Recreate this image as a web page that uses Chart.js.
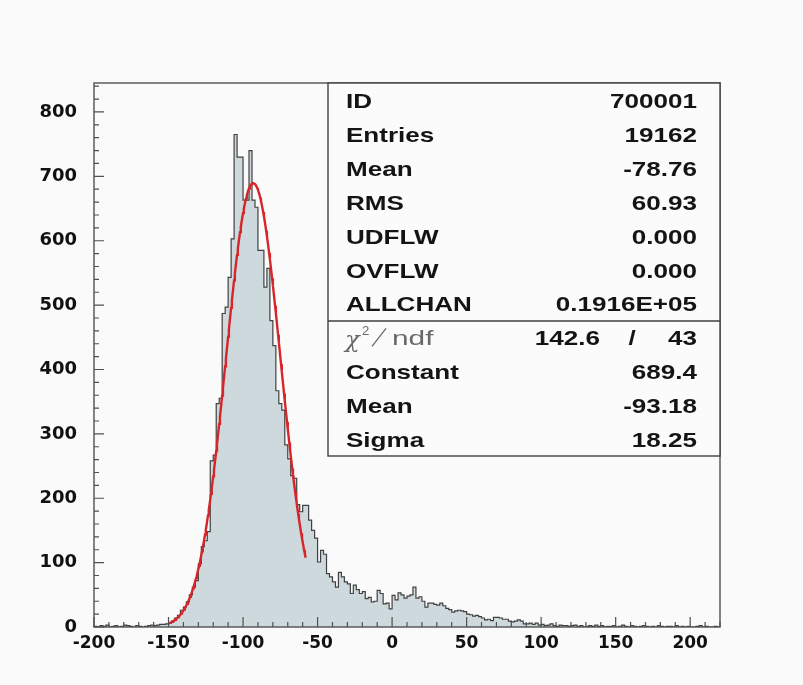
<!DOCTYPE html>
<html>
<head>
<meta charset="utf-8">
<title>700001</title>
<script src="https://cdn.jsdelivr.net/npm/chart.js@4.4.1/dist/chart.umd.min.js"></script>
<style>
  body { margin: 0; background: #fafafa; }
  canvas { display: block; }
</style>
</head>
<body>
<canvas id="histo" width="803" height="685"></canvas>
<script>
// histogram binning: 210 bins of width 2 between -200 and 220
var xMin = -200;
var xMax = 220;
var binWidth = 2;

var counts = [
    1, 0, 2, 1, 3, 0, 1, 2, 0, 1,
    3, 2, 1, 0, 2, 1, 0, 1, 2, 3,
    2, 3, 4, 4, 5, 7, 9, 14, 18, 26,
    31, 39, 50, 62, 72, 98, 125, 134, 148, 258,
    267, 347, 355, 487, 497, 543, 603, 765, 730, 730,
    663, 663, 740, 663, 652, 585, 585, 528, 557, 476,
    437, 367, 347, 337, 283, 261, 235, 231, 190, 179,
    189, 189, 166, 150, 138, 101, 119, 113, 83, 78,
    70, 62, 85, 78, 70, 67, 52, 65, 58, 52,
    55, 44, 46, 39, 40, 57, 52, 36, 37, 28,
    49, 42, 53, 50, 45, 48, 50, 62, 45, 47,
    40, 31, 37, 37, 35, 34, 37, 33, 29, 27,
    23, 25, 26, 25, 24, 20, 19, 17, 18, 16,
    14, 11, 12, 10, 15, 15, 14, 12, 12, 9,
    8, 9, 11, 9, 5, 5, 6, 4, 6, 3,
    4, 2, 3, 5, 2, 1, 3, 2, 2, 1,
    2, 3, 1, 2, 0, 1, 2, 1, 3, 1,
    2, 0, 1, 1, 2, 0, 1, 3, 1, 0,
    2, 1, 0, 1, 2, 1, 0, 1, 0, 2,
    1, 0, 1, 1, 0, 2, 0, 1, 0, 1,
    0, 0, 1, 2, 0, 1, 0, 0, 1, 0
];

var xTicks = [-200, -150, -100, -50, 0, 50, 100, 150, 200];
var yTicks = [0, 100, 200, 300, 400, 500, 600, 700, 800];
var yMax = 845;

// gaussian fit
var fitConstant = 689.4;
var fitMean = -93.18;
var fitSigma = 18.25;
var fitFrom = -150;
var fitTo = -58;

// statistics box
var statNames = ['ID', 'Entries', 'Mean', 'RMS', 'UDFLW', 'OVFLW', 'ALLCHAN'];
var statValues = ['700001', '19162', '-78.76', '60.93', '0.000', '0.000', '0.1916E+05'];
var chi2 = '142.6';
var ndf = '43';
var fitNames = ['Constant', 'Mean', 'Sigma'];
var fitValues = ['689.4', '-93.18', '18.25'];


var histPoints = counts.map(function (c, i) {
    return { x: xMin + i * binWidth, y: c };
});
histPoints.push({ x: xMax, y: counts[counts.length - 1] });

var fitPoints = [];
for (var x = fitFrom; x <= fitTo + 0.001; x += 0.5) {
    var z = (x - fitMean) / fitSigma;
    fitPoints.push({ x: x, y: fitConstant * Math.exp(-0.5 * z * z) });
}

function stretchText(ctx, text, x, y, align, sx) {
    ctx.save();
    ctx.translate(x, y);
    ctx.scale(sx, 1);
    ctx.textAlign = align;
    ctx.fillText(text, 0, 0);
    ctx.restore();
}

var paperPlugin = {
    id: 'paper',
    beforeDraw: function (chart) {
        var ctx = chart.ctx;
        ctx.save();
        ctx.fillStyle = '#fafafa';
        ctx.fillRect(0, 0, chart.width, chart.height);
        ctx.restore();
    },
    afterDraw: function (chart) {
        var ctx = chart.ctx;
        var a = chart.chartArea;
        var sx = chart.scales.x;
        var sy = chart.scales.y;

        ctx.save();
        ctx.strokeStyle = '#505050';
        ctx.lineWidth = 1.4;
        ctx.strokeRect(a.left, a.top, a.right - a.left, a.bottom - a.top);

        // inward tick marks
        ctx.lineWidth = 1.2;
        ctx.beginPath();
        for (var v = xMin; v <= xMax; v += 10) {
            var px = sx.getPixelForValue(v);
            var len = (v % 50 === 0) ? 10 : 5;
            ctx.moveTo(px, a.bottom);
            ctx.lineTo(px, a.bottom - len);
        }
        for (var w = 0; w <= yMax; w += 20) {
            var py = sy.getPixelForValue(w);
            var l2 = (w % 100 === 0) ? 10 : 5;
            ctx.moveTo(a.left, py);
            ctx.lineTo(a.left + l2, py);
        }
        ctx.stroke();

        // stats box
        var bx = 328, by = a.top, bw = a.right - bx, bh = 456 - a.top;
        ctx.fillStyle = '#fbfbfb';
        ctx.fillRect(bx, by, bw, bh);
        ctx.strokeStyle = '#404040';
        ctx.lineWidth = 1.4;
        ctx.strokeRect(bx, by, bw, bh);
        ctx.beginPath();
        ctx.moveTo(bx, 321);
        ctx.lineTo(a.right, 321);
        ctx.stroke();

        var left = 346, right = 697, top = 108, pitch = 33.9;
        ctx.fillStyle = '#141414';
        ctx.font = 'bold 21px "Liberation Sans", Arial, sans-serif';
        ctx.textBaseline = 'alphabetic';
        statNames.forEach(function (name, i) {
            stretchText(ctx, name, left, top + i * pitch, 'left', 1.24);
            stretchText(ctx, statValues[i], right, top + i * pitch, 'right', 1.24);
        });

        var chiY = top + 7 * pitch;
        stretchText(ctx, chi2, 600, chiY, 'right', 1.24);
        stretchText(ctx, '/', 632, chiY, 'center', 1.24);
        stretchText(ctx, ndf, right, chiY, 'right', 1.24);

        fitNames.forEach(function (name, i) {
            var yy = top + (8 + i) * pitch;
            stretchText(ctx, name, left, yy, 'left', 1.24);
            stretchText(ctx, fitValues[i], right, yy, 'right', 1.24);
        });

        // chi2/ndf label in thin type
        ctx.fillStyle = '#6a6a6a';
        ctx.font = 'italic 22px "DejaVu Serif", serif';
        stretchText(ctx, 'χ', left - 1, chiY + 2, 'left', 1.1);
        ctx.font = '12px "Liberation Sans", sans-serif';
        stretchText(ctx, '2', 362, chiY - 10, 'left', 1.1);
        ctx.strokeStyle = '#6a6a6a';
        ctx.lineWidth = 1.3;
        ctx.beginPath();
        ctx.moveTo(372, chiY + 1);
        ctx.lineTo(386, chiY - 17);
        ctx.stroke();
        ctx.font = '21px "Liberation Sans", sans-serif';
        stretchText(ctx, 'ndf', 392, chiY, 'left', 1.42);
        ctx.restore();
    }
};

var xTickFont = { family: '"DejaVu Sans", sans-serif', weight: 'bold', size: 17 };
var yTickFont = { family: '"DejaVu Sans", sans-serif', weight: 'bold', size: 18 };

var chart = new Chart(document.getElementById('histo').getContext('2d'), {
    type: 'line',
    data: {
        datasets: [{
            label: 'fit',
            data: fitPoints,
            borderColor: 'rgb(214, 38, 42)',
            borderWidth: 2.4,
            pointRadius: 0,
            fill: false,
            tension: 0
        }, {
            label: 'histogram',
            data: histPoints,
            stepped: true,
            borderColor: 'rgb(65, 65, 65)',
            borderWidth: 1.2,
            backgroundColor: 'rgb(205, 217, 220)',
            pointRadius: 0,
            fill: 'origin'
        }]
    },
    options: {
        responsive: false,
        animation: false,
        layout: { padding: { top: 83, right: 83, left: 0, bottom: 0 } },
        plugins: {
            legend: { display: false },
            tooltip: { enabled: false }
        },
        scales: {
            x: {
                type: 'linear',
                min: xMin,
                max: xMax,
                afterBuildTicks: function (scale) {
                    scale.ticks = xTicks.map(function (v) { return { value: v }; });
                },
                afterFit: function (scale) { scale.height = 58; },
                grid: { display: false, drawTicks: false },
                border: { display: false },
                ticks: { font: xTickFont, color: '#111', padding: 6, maxRotation: 0, autoSkip: false }
            },
            y: {
                min: 0,
                max: yMax,
                afterBuildTicks: function (scale) {
                    scale.ticks = yTicks.map(function (v) { return { value: v }; });
                },
                afterFit: function (scale) { scale.width = 94; },
                grid: { display: false, drawTicks: false },
                border: { display: false },
                ticks: { font: yTickFont, color: '#111', padding: 17, autoSkip: false }
            }
        }
    },
    plugins: [paperPlugin]
});
</script>
</body>
</html>
